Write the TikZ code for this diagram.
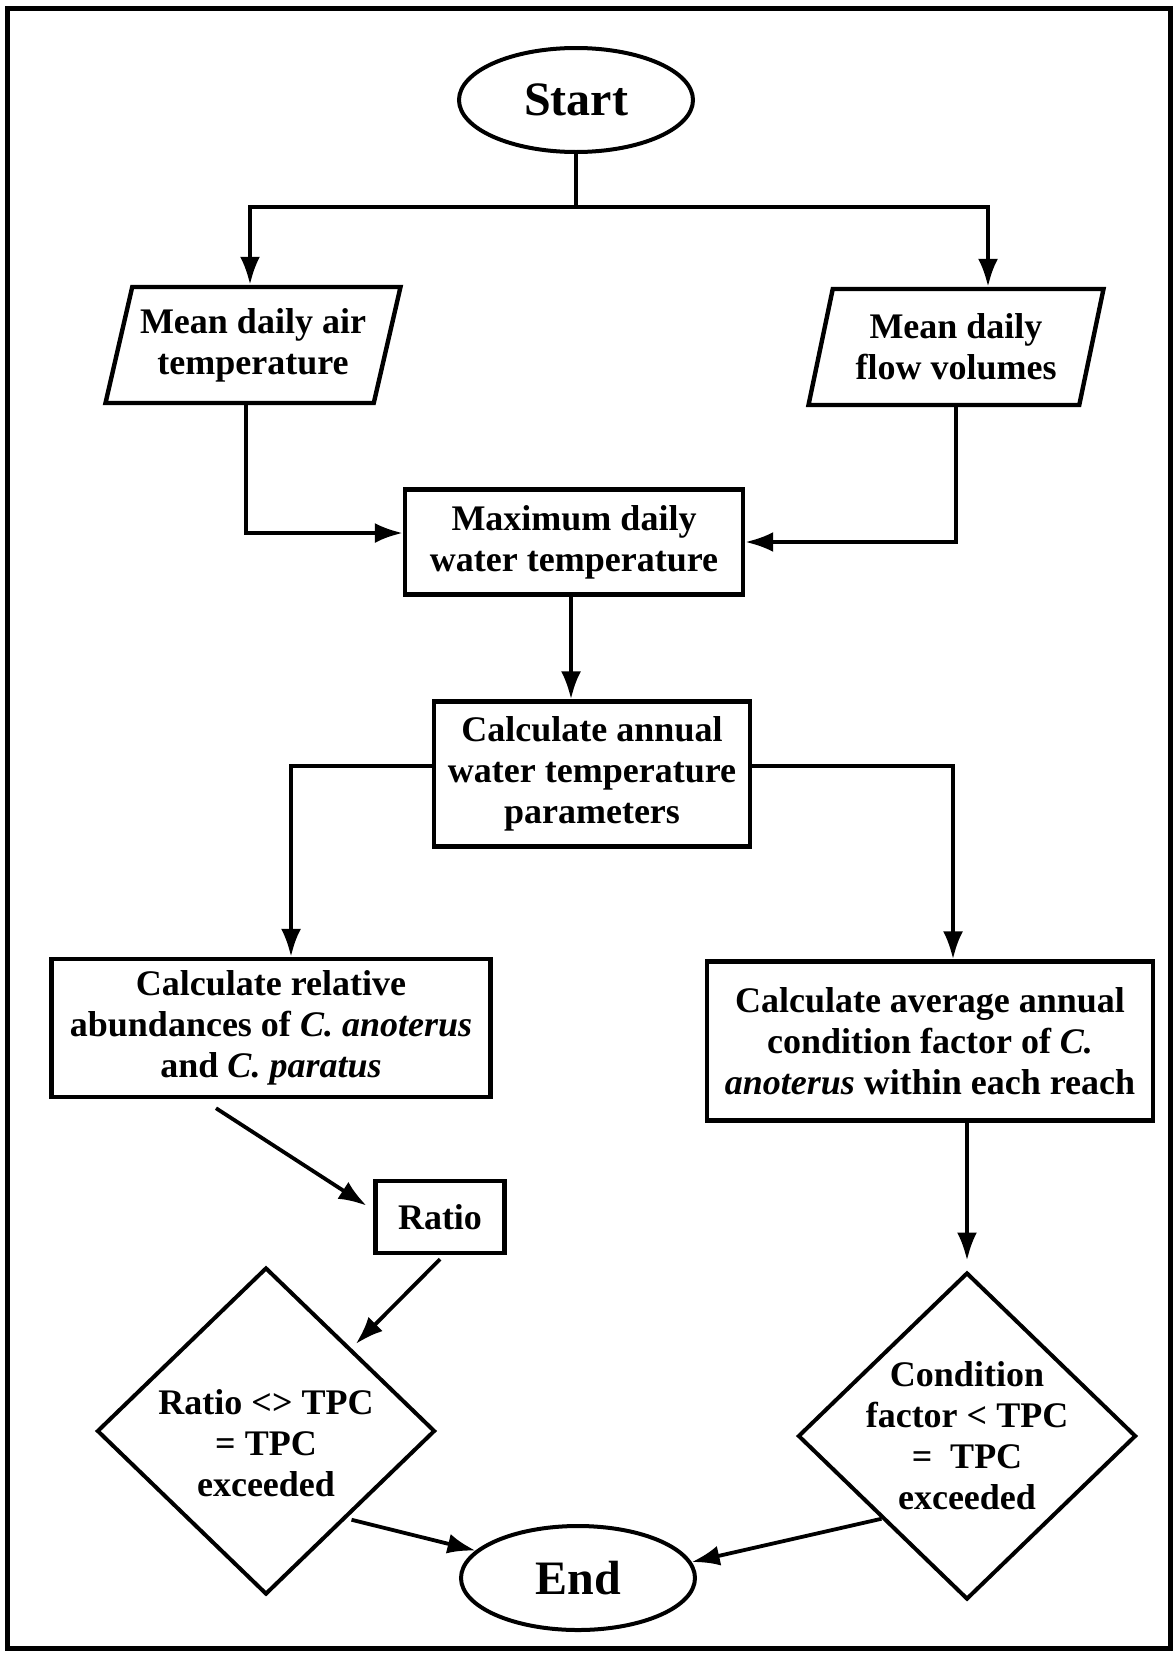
\documentclass[tikz,border=0pt]{standalone}
\usepackage{fontspec}
\setmainfont{Liberation Serif}
\usetikzlibrary{positioning,arrows.meta,shapes.geometric}

\begin{document}
\begin{tikzpicture}[x=0.5pt,y=-0.5pt,
  txt/.style={font=\fontsize{18}{20.5}\selectfont\bfseries,align=center},
  term/.style={ellipse,draw,line width=2pt,inner sep=0pt,minimum width=117pt,minimum height=52pt,font=\fontsize{24}{28}\selectfont\bfseries},
  io/.style={txt,trapezium,trapezium left angle=71,trapezium right angle=109,trapezium stretches body,draw,line width=2.2pt,inner sep=1pt,minimum width=147.5pt,minimum height=58pt},
  proc/.style={txt,rectangle,draw,line width=2.2pt,inner sep=2pt},
  test/.style={diamond,draw,line width=2pt,inner sep=0pt,minimum width=169pt,minimum height=163.5pt},
  edge/.style={-{Latex[length=14pt,width=10pt]},line width=1.9pt},
  wire/.style={line width=1.9pt}
]
\useasboundingbox (0,0) rectangle (1176,1654);
\draw[line width=2.5pt] (7,8) rectangle (1170,1648);

% nodes
\node[term] (start) at (576,100) {Start};
\node[io] (airT) at (253,345) {Mean daily air\\temperature};
\node[io] (flowV) at (956,347) {Mean daily\\flow volumes};
\node[proc,minimum width=169pt,minimum height=52.5pt] (maxT) at (574,542) {Maximum daily\\water temperature};
\node[proc,minimum width=158pt,minimum height=72.5pt] (calcT) at (592,774) {Calculate annual\\water temperature\\parameters};
\node[proc,minimum width=219.5pt,minimum height=69pt] (relAb) at (271,1028) {Calculate relative\\abundances of \textit{C. anoterus}\\and \textit{C. paratus}};
\node[proc,minimum width=223pt,minimum height=79.5pt] (condF) at (930,1041) {Calculate average annual\\condition factor of \textit{C.}\\\textit{anoterus} within each reach};
\node[proc,minimum width=64.5pt,minimum height=36pt] (ratio) at (440,1217) {Ratio};
\node[test,label={[txt,yshift=-6pt]center:{Ratio <> TPC\\= TPC\\exceeded}}] (cmpR) at (266,1431) {};
\node[test,label={[txt]center:{Condition\\factor < TPC\\=~ TPC\\exceeded}}] (cmpC) at (967,1436) {};
\node[term] (end) at (578,1578) {End};

% connectors
\coordinate (split) at (576,207);
\draw[wire] (start) -- (split);
\draw[edge] (split) -| (airT.north -| 250,0);
\draw[edge] (split) -| (flowV.north -| 988,0);
\draw[edge] (airT.south -| 246,0) |- ([yshift=4.5pt]maxT.west);
\draw[edge] (flowV.south) |- (maxT.east);
\draw[edge] (maxT.south -| 571,0) -- (calcT.north -| 571,0);
\draw[edge] ([yshift=4pt]calcT.west) -| (relAb.north -| 291,0);
\draw[edge] ([yshift=4pt]calcT.east) -| (condF.north -| 953,0);
\draw[edge,shorten >=4pt] ([xshift=-27.5pt,yshift=-4.5pt]relAb.south) -- ([yshift=3.5pt]ratio.west);
\draw[edge,shorten >=3pt] ([yshift=-2pt]ratio.south) -- (cmpR.north east);
\draw[edge,shorten >=5pt] (condF.south -| cmpC.north) -- (cmpC.north);
\draw[edge] ([yshift=-3pt]cmpR.south east) -- (end.165);
\draw[edge] (cmpC.south west) -- (end.8);
\end{tikzpicture}
\end{document}
